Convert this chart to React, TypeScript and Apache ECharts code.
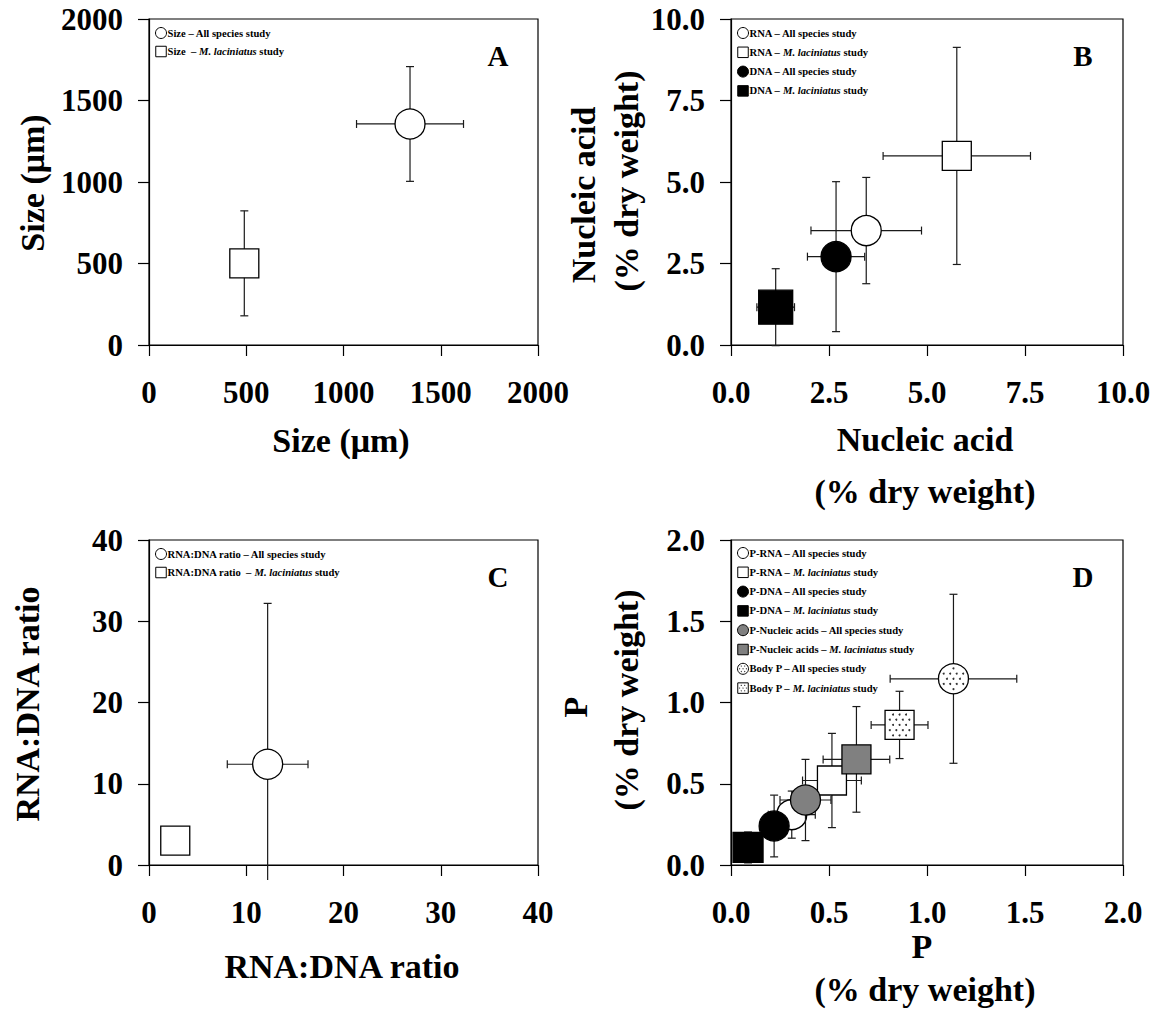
import React, { useEffect, useRef } from "react";
import * as echarts from "echarts";

const FONT = "'Liberation Serif', 'Times New Roman', Times, serif";

// ---------------- Panel A: Size (µm) ----------------
const aNames = ["Size – All species study", "Size  – M. laciniatus study"];
const aX = [1342, 490];
const aY = [1356, 501];
const aXErr = [275, 0];
const aYErr = [352, 322];

// ---------------- Panel B: Nucleic acid (% dry weight) ----------------
const bNames = [
  "RNA – All species study",
  "RNA – M. laciniatus study",
  "DNA – All species study",
  "DNA – M. laciniatus study",
];
const bX = [3.45, 5.76, 2.68, 1.14];
const bY = [3.51, 5.8, 2.71, 1.16];
const bXErr = [1.41, 1.88, 0.73, 0.48];
const bYErr = [1.63, 3.33, 2.3, 1.18];

// ---------------- Panel C: RNA:DNA ratio ----------------
const cNames = ["RNA:DNA ratio – All species study", "RNA:DNA ratio  – M. laciniatus study"];
const cX = [12.2, 2.7];
const cY = [12.4, 3.0];
const cXErr = [4.15, 0];
const cYErr = [19.8, 0];

// ---------------- Panel D: P (% dry weight) ----------------
const dNames = [
  "P-RNA – All species study",
  "P-RNA – M. laciniatus study",
  "P-DNA – All species study",
  "P-DNA – M. laciniatus study",
  "P-Nucleic acids – All species study",
  "P-Nucleic acids – M. laciniatus study",
  "Body P – All species study",
  "Body P – M. laciniatus study",
];
const dX = [0.31, 0.515, 0.22, 0.087, 0.38, 0.64, 1.135, 0.86];
const dY = [0.31, 0.52, 0.24, 0.108, 0.4, 0.65, 1.146, 0.862];
const dXErr = [0.12, 0.15, 0.02, 0.02, 0.13, 0.17, 0.323, 0.145];
const dYErr = [0.145, 0.29, 0.19, 0.095, 0.25, 0.325, 0.52, 0.207];

// ---------------- marker styles ----------------
type Mk = { shape: "circle" | "rect"; fill: string; size: number; dotted?: boolean };
const W = "#ffffff";
const K = "#000000";
const G = "#808080";
const aMarks: Mk[] = [
  { shape: "circle", fill: W, size: 30 },
  { shape: "rect", fill: W, size: 29 },
];
const bMarks: Mk[] = [
  { shape: "circle", fill: W, size: 30 },
  { shape: "rect", fill: W, size: 29 },
  { shape: "circle", fill: K, size: 30 },
  { shape: "rect", fill: K, size: 34 },
];
const cMarks: Mk[] = [
  { shape: "circle", fill: W, size: 30 },
  { shape: "rect", fill: W, size: 29 },
];
const dMarks: Mk[] = [
  { shape: "circle", fill: W, size: 30 },
  { shape: "rect", fill: W, size: 29 },
  { shape: "circle", fill: K, size: 30 },
  { shape: "rect", fill: K, size: 30 },
  { shape: "circle", fill: G, size: 30 },
  { shape: "rect", fill: G, size: 29 },
  { shape: "circle", fill: W, size: 30, dotted: true },
  { shape: "rect", fill: W, size: 29, dotted: true },
];

function dots(cx: number, cy: number, size: number, shape: string, sp: number, r: number, pad: number) {
  const out: any[] = [];
  const half = size / 2;
  for (let row = -7; row <= 7; row++) {
    const yy = cy + row * sp * 0.8;
    const off = row % 2 !== 0 ? sp / 2 : 0;
    for (let col = -7; col <= 7; col++) {
      const xx = cx + col * sp + off;
      if (shape === "rect") {
        if (Math.abs(xx - cx) > half - pad || Math.abs(yy - cy) > half - pad) continue;
      } else if (Math.hypot(xx - cx, yy - cy) > half - pad) continue;
      out.push({ type: "circle", shape: { cx: xx, cy: yy, r }, style: { fill: "#333" } });
    }
  }
  return out;
}

function markerEls(mk: Mk, cx: number, cy: number, size: number, lw: number, small: boolean) {
  const els: any[] = [];
  const style = { fill: mk.fill, stroke: "#000", lineWidth: lw };
  if (mk.shape === "circle") {
    els.push({ type: "circle", shape: { cx, cy, r: size / 2 }, style });
  } else {
    els.push({ type: "rect", shape: { x: cx - size / 2, y: cy - size / 2, width: size, height: size }, style });
  }
  if (mk.dotted) {
    els.push(...(small ? dots(cx, cy, size, mk.shape, 3.4, 0.6, 1.6) : dots(cx, cy, size, mk.shape, 6.5, 1.0, 3)));
  }
  return els;
}

function makeRender(mk: Mk) {
  return (params: any, api: any) => {
    const x = api.value(0);
    const y = api.value(1);
    const xe = api.value(2);
    const ye = api.value(3);
    const c = api.coord([x, y]);
    const cs = params.coordSys;
    const bottomLimit = cs.y + cs.height + 15;
    const ls = { stroke: "#1a1a1a", lineWidth: 1.2 };
    const cap = 4;
    const ch: any[] = [];
    const line = (x1: number, y1: number, x2: number, y2: number) =>
      ch.push({ type: "line", shape: { x1, y1, x2, y2 }, style: ls });
    if (xe > 0) {
      const l = api.coord([x - xe, y])[0];
      const r = api.coord([x + xe, y])[0];
      line(l, c[1], r, c[1]);
      line(l, c[1] - cap, l, c[1] + cap);
      line(r, c[1] - cap, r, c[1] + cap);
    }
    if (ye > 0) {
      const t = api.coord([x, y + ye])[1];
      let b = api.coord([x, y - ye])[1];
      let bcap = true;
      if (b > bottomLimit) {
        b = bottomLimit;
        bcap = false;
      }
      line(c[0], t, c[0], b);
      line(c[0] - cap, t, c[0] + cap, t);
      if (bcap) line(c[0] - cap, b, c[0] + cap, b);
    }
    ch.push(...markerEls(mk, c[0], c[1], mk.size, 1.3, false));
    return { type: "group", children: ch };
  };
}

function legendRich(s: string) {
  const k = "M. laciniatus";
  const i = s.indexOf(k);
  if (i < 0) return `{b|${s}}`;
  return `{b|${s.slice(0, i)}}{i|${k}}{b|${s.slice(i + k.length)}}`;
}

const panels = [
  {
    grid: { left: 149, top: 19, width: 389, height: 326 },
    min: 0, max: 2000, interval: 500, dec: 0,
    names: aNames, xs: aX, ys: aY, xe: aXErr, ye: aYErr, marks: aMarks,
    letter: "A", legendY: 33, legendDy: 18.5,
  },
  {
    grid: { left: 731, top: 19, width: 392, height: 326 },
    min: 0, max: 10, interval: 2.5, dec: 1,
    names: bNames, xs: bX, ys: bY, xe: bXErr, ye: bYErr, marks: bMarks,
    letter: "B", legendY: 33, legendDy: 19.3,
  },
  {
    grid: { left: 149, top: 540, width: 389, height: 325 },
    min: 0, max: 40, interval: 10, dec: 0,
    names: cNames, xs: cX, ys: cY, xe: cXErr, ye: cYErr, marks: cMarks,
    letter: "C", legendY: 554, legendDy: 18.5,
  },
  {
    grid: { left: 731, top: 540, width: 392, height: 325 },
    min: 0, max: 2, interval: 0.5, dec: 1,
    names: dNames, xs: dX, ys: dY, xe: dXErr, ye: dYErr, marks: dMarks,
    letter: "D", legendY: 553, legendDy: 19.3,
  },
];

function txt(text: string, x: number, y: number, size: number, rot = false) {
  return {
    type: "text",
    x,
    y,
    rotation: rot ? Math.PI / 2 : 0,
    style: {
      text,
      font: `bold ${size}px ${FONT}`,
      fill: "#000",
      align: "center",
      verticalAlign: "middle",
      textAlign: "center",
      textVerticalAlign: "middle",
    },
  };
}

function buildOption() {
  const grids: any[] = [];
  const xAxes: any[] = [];
  const yAxes: any[] = [];
  const series: any[] = [];
  const graphics: any[] = [];

  const axisCommon = (p: any, isX: boolean, idx: number) => ({
    gridIndex: idx,
    type: "value",
    min: p.min,
    max: p.max,
    interval: p.interval,
    axisLine: { show: true, onZero: false, lineStyle: { color: "#000", width: 1.2 } },
    axisTick: { show: true, inside: false, length: 11, lineStyle: { color: "#000", width: 1.2 } },
    splitLine: { show: false },
    axisLabel: {
      fontFamily: FONT,
      fontWeight: "bold",
      fontSize: 31,
      color: "#000",
      margin: isX ? 32 : 26,
      formatter: (v: number) => v.toFixed(p.dec),
    },
  });

  panels.forEach((p, pi) => {
    grids.push({ ...p.grid, show: true, borderColor: "#000", borderWidth: 1.2, backgroundColor: "transparent" });
    xAxes.push(axisCommon(p, true, pi));
    yAxes.push(axisCommon(p, false, pi));
    p.names.forEach((n, i) => {
      series.push({
        type: "custom",
        name: n,
        xAxisIndex: pi,
        yAxisIndex: pi,
        clip: false,
        encode: { x: 0, y: 1 },
        data: [[p.xs[i], p.ys[i], p.xe[i], p.ye[i]]],
        renderItem: makeRender(p.marks[i]),
      });
      const ly = p.legendY + i * p.legendDy;
      const iconX = p.grid.left + 12;
      graphics.push({
        type: "group",
        children: markerEls(p.marks[i], iconX, ly, p.marks[i].shape === "circle" ? 11 : 10.5, 1, true),
      });
      graphics.push({
        type: "text",
        x: p.grid.left + 18.5,
        y: ly,
        style: {
          text: legendRich(n),
          fill: "#000",
          align: "left",
          verticalAlign: "middle",
          textAlign: "left",
          textVerticalAlign: "middle",
          rich: {
            b: { fontFamily: FONT, fontWeight: "bold", fontSize: 10.6, fill: "#000" },
            i: { fontFamily: FONT, fontWeight: "bold", fontStyle: "italic", fontSize: 10.6, fill: "#000" },
          },
        },
      });
    });
    graphics.push(txt(p.letter, p.grid.left + p.grid.width - 40, p.grid.top + 37, 29));
  });

  // axis titles
  graphics.push(txt("Size (μm)", 341, 440, 34));
  graphics.push(txt("Size (μm)", 32, 183, 34, true));
  graphics.push(txt("Nucleic acid", 925, 439, 34));
  graphics.push(txt("(% dry weight)", 925, 491, 34));
  graphics.push(txt("Nucleic acid", 583, 195, 34, true));
  graphics.push(txt("(% dry weight)", 626, 181, 34, true));
  graphics.push(txt("RNA:DNA ratio", 342, 966, 34));
  graphics.push(txt("RNA:DNA ratio", 27, 704, 34, true));
  graphics.push(txt("P", 922, 946, 34));
  graphics.push(txt("(% dry weight)", 925, 989, 34));
  graphics.push(txt("P", 575, 707, 34, true));
  graphics.push(txt("(% dry weight)", 626, 700, 34, true));

  return {
    animation: false,
    backgroundColor: "#ffffff",
    grid: grids,
    xAxis: xAxes,
    yAxis: yAxes,
    series,
    graphic: graphics,
  };
}

export default function App() {
  const ref = useRef<HTMLDivElement>(null);
  useEffect(() => {
    document.body.style.margin = "0";
    if (!ref.current) return;
    const chart = echarts.init(ref.current, undefined, { renderer: "svg" });
    chart.setOption(buildOption() as any);
    return () => chart.dispose();
  }, []);
  return <div ref={ref} style={{ width: 1157, height: 1009, background: "#fff" }} />;
}
